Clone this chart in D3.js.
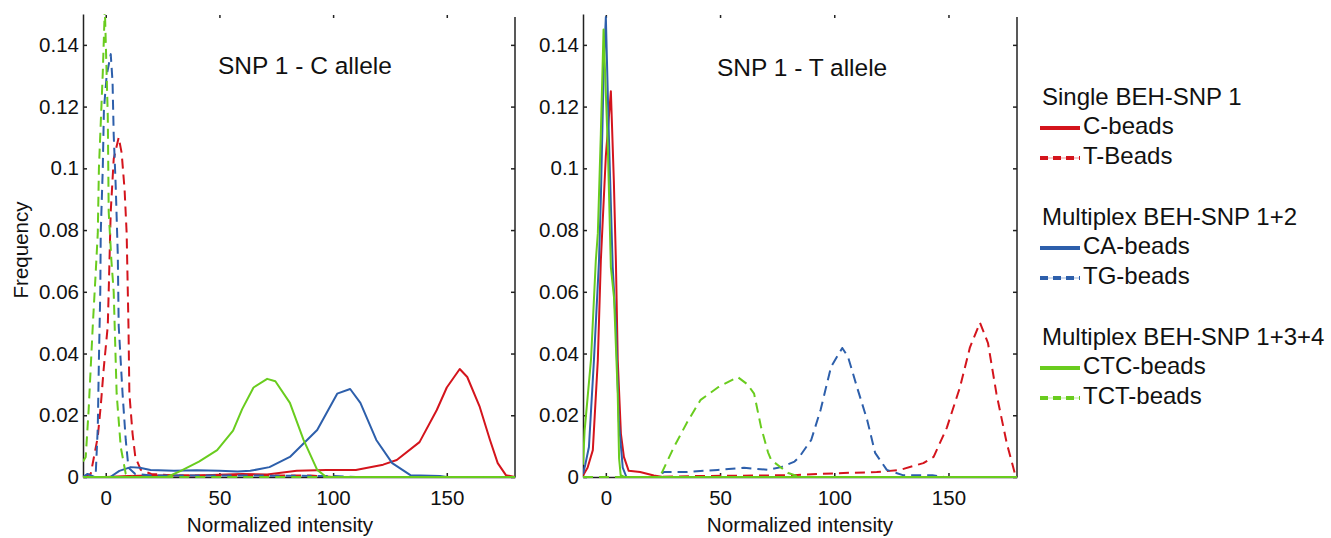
<!DOCTYPE html>
<html>
<head>
<meta charset="utf-8">
<script src="https://cdn.jsdelivr.net/npm/d3@7"></script>
<style>
  body { margin: 0; background: #fff; }
  svg { display: block; font-family: "Liberation Sans", Arial, sans-serif; }
</style>
</head>
<body>
<svg id="chart" width="1331" height="538"></svg>
<script>
// x = normalized intensity, y = frequency
// SNP 1 - C allele panel
const cAlleleC = [[-10,0],[0,0],[10,0.0003],[20,0.0005],[40,0.0005],[60,0.001],[71,0.0008],[84,0.002],[97,0.0023],[110,0.0023],[122,0.004],[128,0.0055],[138,0.0113],[145.6,0.0217],[150,0.029],[155.7,0.035],[159,0.0324],[164.5,0.0227],[169,0.012],[172.4,0.0045],[176,0.0006],[180,0]];
const cAlleleT = [[-10,0],[-6.6,0.001],[-3.5,0.013],[-2.2,0.023],[-0.9,0.035],[0.9,0.049],[1.3,0.06],[2.2,0.086],[3.5,0.103],[5.7,0.11],[7,0.105],[8.3,0.093],[9.2,0.079],[9.6,0.064],[10,0.049],[10.4,0.027],[11.8,0.014],[13,0.0065],[15.4,0.0023],[20,0.001],[30,0.0005],[60,0.0005],[90,0.0005],[100,0],[180,0]];
const cAlleleCA = [[-10,0],[-8,0.001],[-5,0],[2,0],[6,0.002],[11,0.0032],[15,0.003],[19.7,0.0023],[30,0.002],[40,0.0022],[50,0.002],[58,0.0018],[63.6,0.002],[72,0.0032],[81,0.0065],[93,0.0152],[101.8,0.027],[107.5,0.0285],[112,0.024],[119,0.012],[126,0.0045],[134,0.0006],[147,0.0003],[150,0],[180,0]];
const cAlleleTG = [[-10,0],[-6,0],[-4.4,0.001],[-3.5,0.016],[-3,0.038],[-2.4,0.06],[-2.2,0.079],[-1.3,0.1],[-0.8,0.119],[0.4,0.13],[2.2,0.137],[3,0.128],[3.5,0.111],[4.4,0.094],[5.3,0.072],[5.7,0.049],[7.4,0.027],[8.8,0.012],[10,0.003],[13,0.001],[20,0.0005],[60,0.0005],[100,0.0003],[110,0],[180,0]];
const cAlleleCTC = [[-10,0],[27,0],[33,0.002],[41,0.005],[49,0.0087],[56,0.015],[60,0.022],[65,0.029],[71,0.0318],[74.6,0.031],[81,0.024],[87,0.012],[93,0.0023],[97,0],[180,0]];
const cAlleleTCT = [[-10,0.005],[-8.8,0.0065],[-7.5,0.022],[-5.7,0.049],[-4.5,0.065],[-3.5,0.079],[-3,0.1],[-1.3,0.131],[-0.4,0.152],[0.9,0.117],[1.3,0.086],[2.5,0.07],[3.5,0.06],[4.8,0.027],[6.6,0.0097],[8.8,0.001],[12,0],[180,0]];

// SNP 1 - T allele panel
const tAlleleC = [[-10,0.0005],[-8,0.003],[-5.7,0.0087],[-3.5,0.038],[-2.2,0.07],[0,0.104],[2.2,0.125],[3.5,0.096],[4.4,0.07],[5.2,0.038],[6.6,0.014],[7.9,0.0065],[10,0.002],[15,0.0016],[21,0.0005],[25,0],[180,0]];
const tAlleleT = [[-10,0],[20,0],[40,0.0003],[82,0.0006],[104,0.0013],[118.6,0.0016],[128.8,0.0023],[139,0.0045],[143.5,0.0065],[149.3,0.016],[155,0.029],[159.4,0.042],[163.8,0.05],[167.3,0.0434],[171,0.027],[175.5,0.011],[179,0.0013],[180,0]];
const tAlleleCA = [[-10,0.001],[-9,0.004],[-7.4,0.0097],[-5.2,0.038],[-3,0.07],[-2.2,0.09],[-0.9,0.133],[0,0.149],[1.3,0.111],[3,0.068],[4.4,0.049],[5.7,0.018],[7.4,0.003],[9,0],[180,0]];
const tAlleleTG = [[-10,0],[22,0],[25.4,0.0016],[35,0.0016],[49,0.0023],[60.5,0.003],[71,0.0023],[76.8,0.0032],[82.6,0.005],[84.7,0.0065],[89.9,0.012],[94,0.0217],[98.6,0.0357],[103.5,0.0418],[106,0.039],[110,0.029],[114.4,0.0185],[117.9,0.0078],[123,0.0023],[130,0.0006],[143,0.0006],[148,0],[180,0]];
const tAlleleCTC = [[-10,0.004],[-9.3,0.015],[-8.8,0.019],[-6.5,0.038],[-4.4,0.07],[-3.5,0.079],[-2.2,0.111],[-1,0.145],[0.9,0.106],[2.2,0.068],[3.6,0.058],[5.2,0.027],[5.8,0.006],[6.5,0.0006],[8,0],[180,0]];
const tAlleleTCT = [[-10,0],[22,0],[24,0.0006],[29.8,0.0097],[35.8,0.018],[41.5,0.025],[49,0.029],[57.7,0.0324],[62,0.03],[64.9,0.027],[68,0.016],[71,0.008],[72.4,0.0055],[79.8,0.0013],[85,0],[180,0]];

const xTicks = [0, 50, 100, 150];
const yTicks = [0, 0.02, 0.04, 0.06, 0.08, 0.1, 0.12, 0.14];
const yTickLabels = ["0", "0.02", "0.04", "0.06", "0.08", "0.1", "0.12", "0.14"];

const panelTitles = ["SNP 1 - C allele", "SNP 1 - T allele"];
const legendGroups = ["Single BEH-SNP 1", "Multiplex BEH-SNP 1+2", "Multiplex BEH-SNP 1+3+4"];
const seriesNames = ["C-beads", "T-Beads", "CA-beads", "TG-beads", "CTC-beads", "TCT-beads"];

const RED = "#d4141c", BLUE = "#2d5fab", GREEN = "#69cc1e";
const seriesStyle = [
  { color: RED, dash: null },
  { color: RED, dash: "10,6" },
  { color: BLUE, dash: null },
  { color: BLUE, dash: "10,6" },
  { color: GREEN, dash: null },
  { color: GREEN, dash: "10,6" }
];

const panels = [
  { left: 83, right: 515, title: panelTitles[0], titleX: 218, titleY: 74, labelX: 280,
    data: [cAlleleC, cAlleleT, cAlleleCA, cAlleleTG, cAlleleCTC, cAlleleTCT] },
  { left: 583, right: 1017, title: panelTitles[1], titleX: 717, titleY: 76, labelX: 800,
    data: [tAlleleC, tAlleleT, tAlleleCA, tAlleleTG, tAlleleCTC, tAlleleTCT] }
];

const TOP = 14, BOTTOM = 477;
const svg = d3.select("#chart");

panels.forEach((p, pi) => {
  const x = d3.scaleLinear().domain([-10, 180]).range([p.left, p.right]);
  const y = d3.scaleLinear().domain([0, 0.15]).range([BOTTOM, TOP]);

  const clipId = "clip" + pi;
  svg.append("clipPath").attr("id", clipId)
    .append("rect")
    .attr("x", p.left).attr("y", TOP)
    .attr("width", p.right - p.left).attr("height", BOTTOM - TOP + 2);

  // box: right side and top ticks, no labels
  const rightAx = svg.append("g")
    .attr("transform", `translate(${p.right},0)`)
    .call(d3.axisRight(y).tickValues(yTicks).tickSizeInner(-4).tickSizeOuter(0).tickFormat(""));
  rightAx.select(".domain").attr("d", `M0,${TOP + 3}V${BOTTOM}`);

  const topAx = svg.append("g")
    .attr("transform", `translate(0,${TOP + 1})`)
    .call(d3.axisTop(x).tickValues(xTicks).tickSizeInner(-3).tickSizeOuter(0).tickFormat(""));
  topAx.select(".domain").remove();

  const bottomAx = svg.append("g")
    .attr("transform", `translate(0,${BOTTOM})`)
    .call(d3.axisBottom(x).tickValues(xTicks).tickSizeInner(-4).tickSizeOuter(0).tickPadding(13));

  const leftAx = svg.append("g")
    .attr("transform", `translate(${p.left},0)`)
    .call(d3.axisLeft(y).tickValues(yTicks).tickFormat((d, i) => yTickLabels[i])
      .tickSizeInner(-4).tickSizeOuter(0).tickPadding(4));

  [rightAx, topAx, bottomAx, leftAx].forEach(g => {
    g.selectAll("path, line").attr("stroke", "#222").attr("stroke-width", 1.5);
    g.selectAll("text").attr("font-size", "20.5px").attr("fill", "#111")
      .attr("font-family", "'Liberation Sans', Arial, sans-serif");
  });

  const line = d3.line()
    .x(d => x(d[0]))
    .y(d => y(d[1]));

  const lines = svg.append("g").attr("clip-path", `url(#${clipId})`);
  p.data.forEach((series, i) => {
    lines.append("path")
      .datum(series)
      .attr("fill", "none")
      .attr("stroke", seriesStyle[i].color)
      .attr("stroke-width", 2)
      .attr("stroke-linejoin", "round")
      .attr("stroke-dasharray", seriesStyle[i].dash)
      .attr("d", line);
  });

  svg.append("text")
    .attr("x", p.titleX).attr("y", p.titleY)
    .attr("font-size", "24.5px").attr("fill", "#111")
    .text(p.title);

  svg.append("text")
    .attr("x", p.labelX).attr("y", 532)
    .attr("text-anchor", "middle")
    .attr("font-size", "20.7px").attr("fill", "#111")
    .text("Normalized intensity");
});

// Y-axis label
svg.append("text")
  .attr("transform", "translate(28,250) rotate(-90)")
  .attr("text-anchor", "middle")
  .attr("font-size", "20.5px").attr("fill", "#111")
  .text("Frequency");

// legend
const legend = svg.append("g");
const headerY = [105, 225, 345];
legendGroups.forEach((g, gi) => {
  legend.append("text")
    .attr("x", 1042).attr("y", headerY[gi])
    .attr("font-size", "24px").attr("fill", "#111")
    .text(g);
  [0, 1].forEach(k => {
    const si = gi * 2 + k;
    const base = headerY[gi] + 30 * (k + 1) - 1;
    const ly = base - 6;
    if (seriesStyle[si].dash) {
      legend.append("line")
        .attr("x1", 1040).attr("x2", 1080).attr("y1", ly).attr("y2", ly)
        .attr("stroke", seriesStyle[si].color).attr("stroke-opacity", 0.45)
        .attr("stroke-width", 1.2);
    }
    legend.append("line")
      .attr("x1", 1040).attr("x2", 1080).attr("y1", ly).attr("y2", ly)
      .attr("stroke", seriesStyle[si].color)
      .attr("stroke-width", 4)
      .attr("stroke-dasharray", seriesStyle[si].dash ? "8,5" : null);
    legend.append("text")
      .attr("x", 1083).attr("y", base)
      .attr("font-size", "24px").attr("fill", "#111")
      .text(seriesNames[si]);
  });
});
</script>
</body>
</html>
